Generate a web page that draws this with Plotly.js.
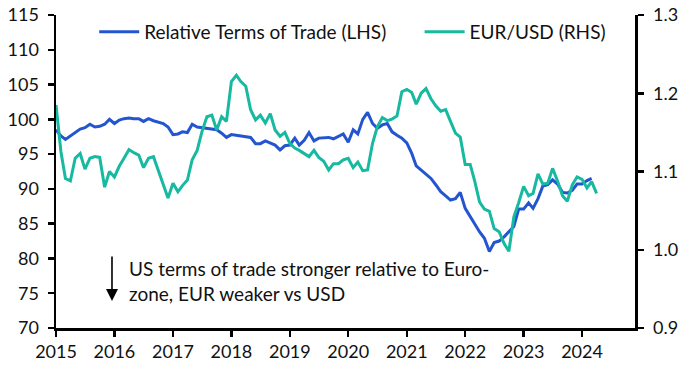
<!DOCTYPE html>
<html>
<head>
<meta charset="utf-8">
<script src="https://cdn.plot.ly/plotly-3.0.1.min.js"></script>
<style>html,body{margin:0;padding:0;background:#fff;}#chart{width:690px;height:381px;}</style>
</head>
<body>
<div id="chart"></div>
<script>
// Monthly data, starting January 2015
const startYear = 2015;
const totName = "Relative Terms of Trade (LHS)";
const fxName = "EUR/USD (RHS)";
const termsOfTrade = [
  98.5, 97.6, 97.1, 97.6, 98.1, 98.6, 98.8, 99.3, 98.9, 99.0, 99.3, 100.0,
  99.4, 99.9, 100.1, 100.2, 100.1, 100.1, 99.7, 100.1, 99.8, 99.6, 99.4, 98.9,
  97.8, 97.9, 98.2, 98.1, 99.3, 98.9, 98.8, 98.7, 98.6, 98.5, 98.0, 97.4,
  97.8, 97.7, 97.6, 97.5, 97.4, 96.5, 96.5, 96.9, 96.6, 96.3, 95.6, 96.2,
  96.3, 97.3, 96.3, 97.0, 98.1, 96.9, 97.3, 97.3, 97.4, 97.2, 97.6, 97.9,
  96.7, 98.5, 97.9, 100.0, 101.0, 99.4, 98.7, 99.2, 99.4, 98.2, 97.7, 97.3,
  96.6, 95.1, 93.3, 92.7, 92.1, 91.5, 90.6, 89.6, 89.0, 88.4, 88.6, 89.5,
  87.2, 86.0, 84.8, 83.8, 82.9, 81.0, 82.3, 82.5, 83.1, 83.8, 84.6, 87.1,
  87.1, 88.0, 87.2, 88.6, 90.4, 90.6, 91.3, 90.7, 89.5, 89.4, 89.8, 90.7,
  90.7, 91.2, 91.5
];
const eurUsd = [
  1.185, 1.125, 1.091, 1.088, 1.117, 1.123, 1.103, 1.117, 1.119, 1.118, 1.080, 1.100,
  1.093, 1.107, 1.117, 1.128, 1.124, 1.121, 1.105, 1.117, 1.119, 1.102, 1.084, 1.066,
  1.085, 1.074, 1.082, 1.089, 1.115, 1.127, 1.151, 1.170, 1.172, 1.153, 1.170, 1.164,
  1.215, 1.223, 1.215, 1.209, 1.179, 1.166, 1.172, 1.162, 1.174, 1.153, 1.145, 1.150,
  1.136, 1.130, 1.127, 1.123, 1.119, 1.127, 1.118, 1.113, 1.102, 1.110, 1.110, 1.115,
  1.117, 1.105, 1.112, 1.101, 1.102, 1.136, 1.157, 1.169, 1.165, 1.167, 1.171, 1.202,
  1.205, 1.201, 1.186, 1.200, 1.206, 1.193, 1.184, 1.177, 1.179, 1.164, 1.149, 1.144,
  1.109, 1.109, 1.088, 1.061, 1.052, 1.049, 1.027, 1.023, 1.008, 0.998, 1.042, 1.060,
  1.081, 1.069, 1.072, 1.097, 1.084, 1.085, 1.104, 1.088, 1.069, 1.062, 1.083, 1.093,
  1.090, 1.079, 1.087, 1.072
];
const xTickVals = ["2015","2016","2017","2018","2019","2020","2021","2022","2023","2024"];
const noteText = "US terms of trade stronger relative to Euro-<br>zone, EUR weaker vs USD";

function monthDates(n) {
  const out = [];
  for (let i = 0; i < n; i++) {
    const y = startYear + Math.floor(i / 12);
    const m = (i % 12) + 1;
    out.push(y + "-" + (m < 10 ? "0" + m : m) + "-01");
  }
  return out;
}

const FONT = "Lato, 'Open Sans', sans-serif";
const blue = "#2355d0";
const teal = "#17b9a1";

const traces = [
  {x: monthDates(termsOfTrade.length), y: termsOfTrade, name: totName, type: "scatter", mode: "lines",
   line: {color: blue, width: 3}, yaxis: "y", legend: "legend"},
  {x: monthDates(eurUsd.length), y: eurUsd, name: fxName, type: "scatter", mode: "lines",
   line: {color: teal, width: 3}, yaxis: "y2", legend: "legend2"}
];

const axisCommon = {
  showgrid: false, zeroline: false, showline: true, linecolor: "#000", linewidth: 2.5,
  ticks: "outside", ticklen: 6, tickwidth: 2.5, tickcolor: "#000",
  tickfont: {family: FONT, size: 18, color: "#111"}
};

const legendFont = {family: FONT, size: 19, color: "#111"};

const layout = {
  width: 690, height: 381,
  margin: {l: 56, r: 55, t: 15, b: 53},
  paper_bgcolor: "#fff", plot_bgcolor: "#fff",
  font: {family: FONT, color: "#111"},
  xaxis: Object.assign({}, axisCommon, {
    type: "date", range: ["2015-01-01", "2024-11-27"],
    tickvals: xTickVals.map(function(y){return y + "-01-01";}),
    ticktext: xTickVals
  }),
  yaxis: Object.assign({}, axisCommon, {range: [70, 115], dtick: 5, tick0: 70, ticklabelstandoff: 5}),
  yaxis2: Object.assign({}, axisCommon, {range: [0.9, 1.3], dtick: 0.1, tick0: 0.9, tickformat: ".1f",
    overlaying: "y", side: "right", ticklabelstandoff: 6}),
  legend: {x: 0.066, y: 0.946, xanchor: "left", yanchor: "middle", orientation: "h", itemwidth: 40,
    bgcolor: "rgba(0,0,0,0)", font: legendFont},
  legend2: {x: 0.628, y: 0.946, xanchor: "left", yanchor: "middle", orientation: "h", itemwidth: 40,
    bgcolor: "rgba(0,0,0,0)", font: legendFont},
  showlegend: true,
  annotations: [
    {xref: "paper", yref: "paper", x: 0.0967, y: 0.086, ax: 0, ay: -46, text: "",
     showarrow: true, arrowhead: 2, arrowsize: 1.5, arrowwidth: 1.6, arrowcolor: "#000"},
    {xref: "paper", yref: "paper", x: 0.122, y: 0.15, xanchor: "left", yanchor: "middle",
     align: "left", showarrow: false, text: noteText, font: legendFont}
  ]
};

Plotly.newPlot("chart", traces, layout, {displayModeBar: false, staticPlot: true});
</script>
</body>
</html>
